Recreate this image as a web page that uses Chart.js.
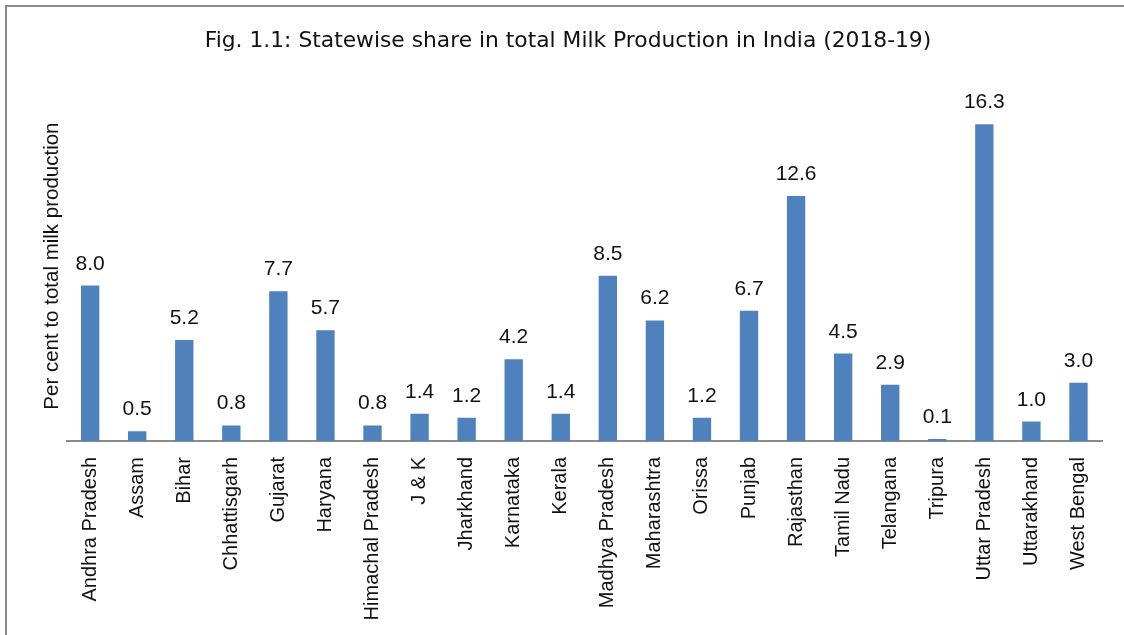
<!DOCTYPE html>
<html>
<head>
<meta charset="utf-8">
<title>Statewise share in total Milk Production in India (2018-19)</title>
<script src="https://cdn.jsdelivr.net/npm/chart.js@4"></script>
<style>
    html, body { margin: 0; padding: 0; background: #fff; }
    #frame {
        position: absolute; left: 5px; top: 5px;
        width: 1200px; height: 700px;
        border-left: 2px solid #8a8a8a;
        border-top: 2px solid #8a8a8a;
    }
    #milkChart { position: absolute; left: 0; top: 0; }
</style>
</head>
<body>
<div id="frame"></div>
<canvas id="milkChart" width="1124" height="635"></canvas>
<script>
// Estados e participação (%) na produção total de leite, 2018-19
const estados = [
    'Andhra Pradesh', 'Assam', 'Bihar', 'Chhattisgarh', 'Gujarat', 'Haryana',
    'Himachal Pradesh', 'J & K', 'Jharkhand', 'Karnataka', 'Kerala',
    'Madhya Pradesh', 'Maharashtra', 'Orissa', 'Punjab', 'Rajasthan',
    'Tamil Nadu', 'Telangana', 'Tripura', 'Uttar Pradesh', 'Uttarakhand',
    'West Bengal'
];
const participacao = [
    8.0, 0.5, 5.2, 0.8, 7.7, 5.7, 0.8, 1.4, 1.2, 4.2, 1.4,
    8.5, 6.2, 1.2, 6.7, 12.6, 4.5, 2.9, 0.1, 16.3, 1.0, 3.0
];

const fonte = "'Liberation Sans', Arial, sans-serif";
const fonteTitulo = "'DejaVu Sans', 'Noto Sans', sans-serif";

// Escreve o valor acima de cada barra
const rotulosValor = {
    id: 'rotulosValor',
    afterDatasetsDraw(chart) {
        const ctx = chart.ctx;
        const meta = chart.getDatasetMeta(0);
        ctx.save();
        ctx.font = '21px ' + fonte;
        ctx.fillStyle = '#111';
        ctx.textAlign = 'center';
        ctx.textBaseline = 'alphabetic';
        meta.data.forEach((barra, i) => {
            const valor = chart.data.datasets[0].data[i];
            ctx.fillText(valor.toFixed(1), barra.x, barra.y - 16);
        });
        ctx.restore();
    }
};

function desenharGrafico() {
    const ctx = document.getElementById('milkChart').getContext('2d');

    new Chart(ctx, {
        type: 'bar',
        data: {
            labels: estados,
            datasets: [{
                data: participacao,
                backgroundColor: '#4f81bd',
                borderWidth: 0,
                barPercentage: 0.39,
                categoryPercentage: 1.0
            }]
        },
        options: {
            responsive: false,
            animation: false,
            layout: { padding: { left: 34, right: 22, top: 20, bottom: 14 } },
            plugins: {
                legend: { display: false },
                tooltip: { enabled: false },
                title: {
                    display: true,
                    text: 'Fig. 1.1: Statewise share in total Milk Production in India (2018-19)',
                    color: '#111',
                    font: { family: fonteTitulo, size: 21.8, weight: 'normal' },
                    padding: { top: 8, bottom: 37 }
                }
            },
            scales: {
                x: {
                    grid: { display: false, drawTicks: false },
                    border: { display: true, color: '#8a8a8a', width: 2 },
                    ticks: {
                        color: '#111',
                        font: { family: fonte, size: 20 },
                        minRotation: 90,
                        maxRotation: 90,
                        padding: 16,
                        autoSkip: false
                    },
                    afterFit(scale) { scale.height = 180; }
                },
                y: {
                    min: 0,
                    max: 18,
                    grid: { display: false, drawTicks: false },
                    border: { display: false },
                    ticks: { display: false },
                    title: {
                        display: true,
                        text: 'Per cent to total milk production',
                        color: '#111',
                        font: { family: fonte, size: 20.5 },
                        padding: { top: 6, bottom: 2 }
                    }
                }
            }
        },
        plugins: [rotulosValor]
    });
}

// Garante que as fontes locais estejam prontas antes de desenhar
Promise.all([
    document.fonts.load('20px "Liberation Sans"'),
    document.fonts.load('21px "DejaVu Sans"')
]).then(desenharGrafico, desenharGrafico);
</script>
</body>
</html>
